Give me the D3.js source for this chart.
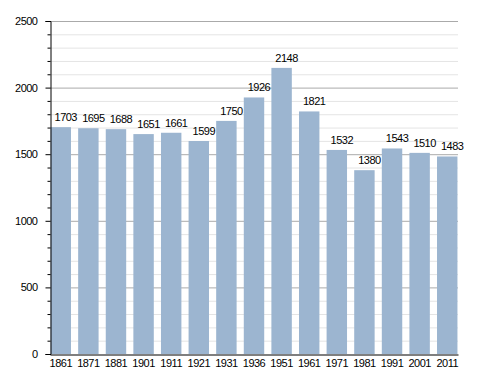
<!DOCTYPE html>
<html>
<head>
<meta charset="utf-8">
<script src="https://cdn.jsdelivr.net/npm/d3@7"></script>
<style>
  body { margin: 0; background: #fff; }
  text { font-family: "Liberation Sans", Arial, sans-serif; letter-spacing: -0.5px; }
</style>
</head>
<body>
<div id="chart"></div>
<script>
// census years and population
var years = ["1861","1871","1881","1901","1911","1921","1931","1936","1951","1961","1971","1981","1991","2001","2011"];
var population = [1703,1695,1688,1651,1661,1599,1750,1926,2148,1821,1532,1380,1543,1510,1483];
var yMajorTicks = [0,500,1000,1500,2000,2500];

var width = 488, height = 373;
var margin = {top: 21, right: 30, bottom: 19, left: 50};

var svg = d3.select("#chart").append("svg")
  .attr("width", width)
  .attr("height", height);

var x = d3.scaleBand()
  .domain(years)
  .range([margin.left, width - margin.right])
  .paddingInner(0.26)
  .paddingOuter(0.02);

var y = d3.scaleLinear()
  .domain([0, 2500])
  .range([height - margin.bottom, margin.top]);

// minor grid every 100
var minor = d3.range(100, 2500, 100).filter(function(v){ return v % 500 != 0; });
svg.append("g").selectAll("line")
  .data(minor)
  .enter().append("line")
    .attr("x1", margin.left).attr("x2", width - margin.right)
    .attr("y1", function(d){ return y(d) + 0.5; })
    .attr("y2", function(d){ return y(d) + 0.5; })
    .attr("stroke", "#e4e4e4");

// major grid
svg.append("g").selectAll("line")
  .data(yMajorTicks.slice(1))
  .enter().append("line")
    .attr("x1", margin.left).attr("x2", width - margin.right)
    .attr("y1", function(d){ return y(d) + 0.5; })
    .attr("y2", function(d){ return y(d) + 0.5; })
    .attr("stroke", "#aaaaaa");

// bars
svg.append("g").selectAll("rect")
  .data(population)
  .enter().append("rect")
    .attr("x", function(d,i){ return x(years[i]); })
    .attr("y", function(d){ return y(d); })
    .attr("width", x.bandwidth())
    .attr("height", function(d){ return y(0) - y(d); })
    .attr("fill", "#9cb5d0");

// value labels, sitting a little right of the bar centre
svg.append("g").selectAll("text")
  .data(population)
  .enter().append("text")
    .attr("x", function(d,i){ return x(years[i]) + x.bandwidth()/2 + 5; })
    .attr("y", function(d){ return y(d) - 6; })
    .attr("text-anchor", "middle")
    .attr("font-size", "11px")
    .attr("fill", "#000")
    .text(function(d){ return d; });

// y axis with minor ticks
var yAxis = d3.axisLeft(y).tickValues(yMajorTicks).tickFormat(d3.format("d")).tickSize(5).tickPadding(8);
var gy = svg.append("g")
  .attr("transform", "translate(" + (margin.left + 0.5) + ",0)")
  .call(yAxis);
gy.select(".domain").attr("stroke", "#000");
gy.selectAll(".tick text").attr("font-size", "11px").attr("font-family", "Liberation Sans, Arial, sans-serif");

gy.append("g").selectAll("line")
  .data(minor)
  .enter().append("line")
    .attr("x1", -3).attr("x2", 0)
    .attr("y1", function(d){ return y(d) + 0.5; })
    .attr("y2", function(d){ return y(d) + 0.5; })
    .attr("stroke", "#000");

// x axis
var xAxis = d3.axisBottom(x).tickSize(0).tickPadding(5);
var gx = svg.append("g")
  .attr("transform", "translate(0," + (y(0) + 0.5) + ")")
  .call(xAxis);
gx.select(".domain").attr("stroke", "#000").attr("stroke-width", 1.2);
gx.selectAll(".tick text").attr("font-size", "11px").attr("font-family", "Liberation Sans, Arial, sans-serif");
</script>
</body>
</html>
